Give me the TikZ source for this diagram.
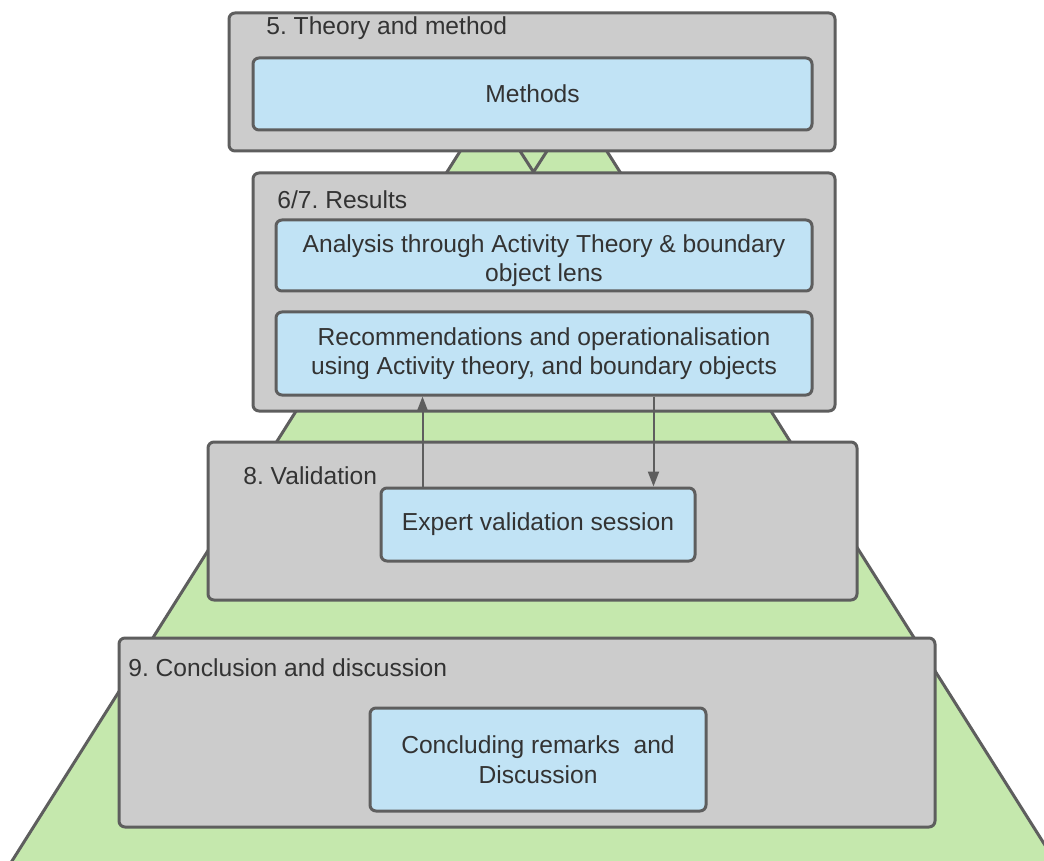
\documentclass[tikz,border=0pt]{standalone}
\usepackage{fontspec}
\setmainfont{Liberation Sans}
\frenchspacing
\usetikzlibrary{arrows.meta, calc}
\definecolor{secgray}{HTML}{CCCCCC}
\definecolor{edge}{HTML}{5E5E5E}
\definecolor{boxblue}{HTML}{C1E3F5}
\definecolor{pyrgreen}{HTML}{C5E8AD}
\definecolor{txt}{HTML}{333333}

\begin{document}
\begin{tikzpicture}[
      x=0.5pt, y=-0.5pt,
      sec/.style = {draw=edge, line width=1.5pt, rounded corners=3pt, fill=secgray},
      blk/.style = {draw=edge, line width=1.5pt, rounded corners=3pt, fill=boxblue,
                    align=center, text=txt, font=\fontsize{12.3}{14.8}\selectfont},
      ttl/.style = {anchor=west, inner sep=0pt, text=txt,
                    font=\fontsize{12.3}{14.8}\selectfont},
      >={Triangle[length=7.5pt,width=5.5pt]}
    ]
    \useasboundingbox (0,0) rectangle (1044,861);
    % pyramide bagved
    \begin{scope}
      \clip (0,0) rectangle (1044,861);
      \filldraw[fill=pyrgreen, draw=edge, line width=1.5pt]
        (0,880) -- (533.5,35) -- (1067,880) -- cycle;
    \end{scope}
    \draw[edge, line width=1.5pt] (520,151) -- (533.5,172) -- (547,151);
    % 5. teori og metode
    \node[sec, minimum width=303pt, minimum height=69pt] (s5) at (532,82) {};
    \node[ttl] (t5) at (266,28) {5. Theory and method};
    \node[blk, minimum width=279.5pt, minimum height=36pt] (meth) at (532.5,94) {Methods};
    % 6/7. resultater
    \node[sec, minimum width=291pt, minimum height=119pt] (s67) at (544,292) {};
    \node[ttl] (t67) at (277,200) {6/7. Results};
    \node[blk, inner ysep=0pt, minimum width=268pt, minimum height=35.5pt] (ana) at (544,255.5)
      {\rule{0pt}{14pt}Analysis through Activity Theory \& boundary\\object lens};
    \node[blk, minimum width=268pt, minimum height=41.5pt] (rec) at (544,353.5)
      {Recommendations and operationalisation\\using Activity theory, and boundary objects};
    % 8. validering
    \node[sec, minimum width=324.5pt, minimum height=79pt] (s8) at (532.5,521) {};
    \node[ttl] (t8) at (243,476) {8. Validation};
    \node[blk, minimum width=157pt, minimum height=36.5pt] (exp) at (538,524.5)
      {Expert validation session};
    % 9. konklusion
    \node[sec, minimum width=408pt, minimum height=94.5pt] (s9) at (527,732.5) {};
    \node[ttl] (t9) at (128,668) {9. Conclusion and discussion};
    \node[blk, minimum width=168pt, minimum height=51.5pt] (con) at (538,759.5)
      {Concluding remarks\ \ and\\Discussion};
    % forbindelser
    \draw[->, edge, line width=1pt] ($(exp.north west)+(43,0)$) -- ($(rec.south west)+(148,0)$);
    \draw[->, edge, line width=1pt] ($(rec.south west)+(379,0)$) -- ($(exp.north west)+(274,0)$);
  \end{tikzpicture}
\end{document}
